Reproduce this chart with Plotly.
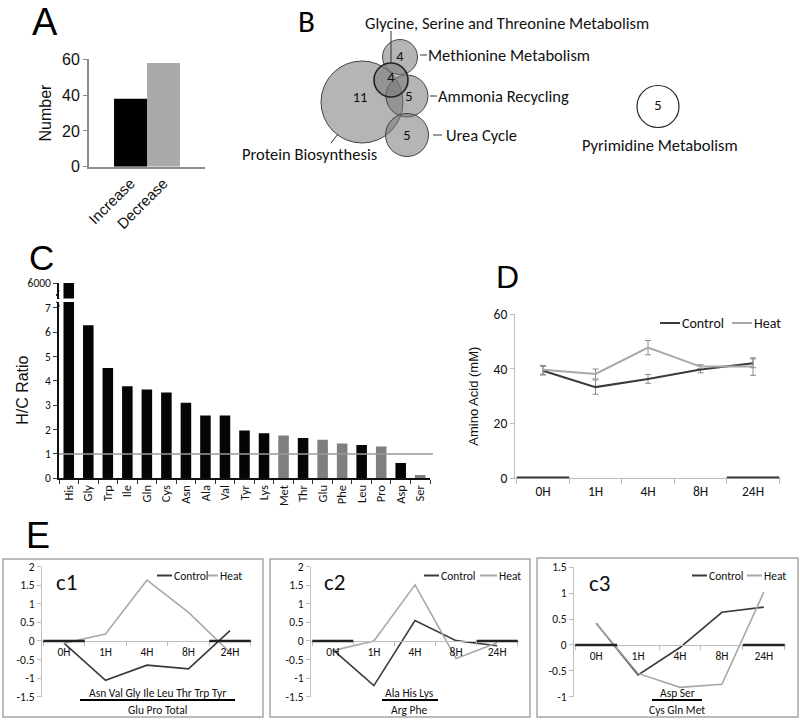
import plotly.graph_objects as go

W, H = 800, 722
def px(x): return x / W
def py(y): return 1 - y / H

ARIAL = "Liberation Sans, Arial, sans-serif"
CAL = "Carlito, Lato, sans-serif"
INK = "#111111"

# ---------------- data ----------------
# Panel A
a_labels = ["Increase", "Decrease"]
a_counts = [38, 58]
a_colors = ["#000000", "#a9a9a9"]

# Panel B
b_pathways = ["Protein Biosynthesis", "Methionine Metabolism",
              "Glycine, Serine and Threonine Metabolism", "Ammonia Recycling",
              "Urea Cycle", "Pyrimidine Metabolism"]
b_counts = [11, 4, 4, 5, 5, 5]

# Panel C
c_amino = ["His", "Gly", "Trp", "Ile", "Gln", "Cys", "Asn", "Ala", "Val", "Tyr",
           "Lys", "Met", "Thr", "Glu", "Phe", "Leu", "Pro", "Asp", "Ser"]
c_ratio = [6000, 6.29, 4.53, 3.78, 3.65, 3.52, 3.10, 2.58, 2.58, 1.96,
           1.85, 1.76, 1.65, 1.58, 1.43, 1.37, 1.31, 0.63, 0.14]
c_gray = ["Met", "Glu", "Phe", "Pro", "Ser"]
c_break_value = 6000
c_ref = 1

# Panel D
times = ["0H", "1H", "4H", "8H", "24H"]
d_control = [39.3, 33.3, 36.3, 39.7, 42.0]
d_control_err = [1.6, 2.6, 1.6, 1.2, 1.6]
d_heat = [39.6, 38.1, 47.7, 40.8, 40.8]
d_heat_err = [1.6, 1.8, 2.6, 0.7, 3.2]

# Panel E
e_names = ["c1", "c2", "c3"]
e_control = [[-0.06, -1.06, -0.65, -0.75, 0.28],
             [-0.23, -1.20, 0.55, 0.01, -0.13],
             [0.42, -0.58, -0.05, 0.63, 0.73]]
e_heat = [[-0.06, 0.19, 1.64, 0.77, -0.31],
          [-0.26, 0.00, 1.51, -0.47, -0.05],
          [0.42, -0.55, -0.82, -0.76, 1.02]]
e_top = ["Asn Val Gly Ile Leu Thr Trp Tyr", "Ala His Lys", "Asp Ser"]
e_bottom = ["Glu Pro Total", "Arg Phe", "Cys Gln Met"]
e_ranges = [[-1.5, 2], [-1.5, 2], [-1, 1.5]]

CTRL = "#3a3a3a"
HEAT = "#a8a8a8"

fig = go.Figure()
shapes = []
ann = []

# ---------------- Panel A ----------------
fig.add_trace(go.Bar(x=[0, 1], y=a_counts, width=1, marker=dict(color=a_colors, line=dict(width=0)),
                     xaxis="x", yaxis="y", showlegend=False))

# ---------------- Panel B ----------------
# geometry (pixel frame of the panel): cx, cy, r
b_geom = [(362, 102, 41), (400, 57, 17.5), (391, 80, 17), (407, 96, 21), (407, 135, 21.5), (658, 106.5, 21)]
b_text_pos = [(360, 98), (400, 57), (391, 78), (409, 97), (407, 136), (658, 106)]
draw_order = [0, 1, 3, 4, 2]
for i in draw_order:
    cx, cy, r = b_geom[i]
    shapes.append(dict(type="circle", xref="x2", yref="y2", x0=cx - r, x1=cx + r, y0=cy - r, y1=cy + r,
                       fillcolor="rgba(120,120,120,0.55)", layer="below",
                       line=dict(color="#222" if i == 2 else "#444", width=1.6 if i == 2 else 1)))
cx, cy, r = b_geom[5]
shapes.append(dict(type="circle", xref="x2", yref="y2", x0=cx - r, x1=cx + r, y0=cy - r, y1=cy + r,
                   fillcolor="white", layer="below", line=dict(color="#222", width=1.2)))
fig.add_trace(go.Scatter(x=[p[0] for p in b_text_pos], y=[p[1] for p in b_text_pos], mode="text",
                         text=[str(c) for c in b_counts], textfont=dict(family=CAL, size=14.5, color=INK),
                         xaxis="x2", yaxis="y2", showlegend=False, hoverinfo="skip"))
# pathway labels
def bl(x, y, t, xa="left"):
    ann.append(dict(xref="x2", yref="y2", x=x, y=y, text=t, showarrow=False, xanchor=xa, yanchor="middle",
                    font=dict(family=CAL, size=16.5, color=INK)))
def bline(x0, y0, x1, y1):
    shapes.append(dict(type="line", xref="x2", yref="y2", x0=x0, y0=y0, x1=x1, y1=y1,
                       line=dict(color="#333", width=1)))
bl(363, 23, b_pathways[2]); bline(391, 31, 391, 63)
bl(426, 55, b_pathways[1]); bline(420, 55, 427, 55)
bl(436, 96, b_pathways[3]); bline(430, 96, 437, 96)
bl(444, 135, b_pathways[4]); bline(433, 135, 442, 135)
bl(240, 154, b_pathways[0]); bline(331, 143, 338, 134)
bl(660, 145, b_pathways[5], "center")

# ---------------- Panel C ----------------
c_colors = ["#7f7f7f" if a in c_gray else "#050505" for a in c_amino]
fig.add_trace(go.Bar(x=c_amino, y=c_ratio, width=0.54, marker=dict(color=c_colors, line=dict(width=0)),
                     xaxis="x3", yaxis="y3", showlegend=False))
fig.add_trace(go.Bar(x=c_amino[:1], y=c_ratio[:1], width=0.54, marker=dict(color=c_colors[:1], line=dict(width=0)),
                     xaxis="x4", yaxis="y4", showlegend=False))
shapes.append(dict(type="line", xref="x3 domain", yref="y3", x0=0, x1=1.008, y0=c_ref, y1=c_ref,
                   line=dict(color="#9a9a9a", width=1.5)))
# axis break marks
shapes.append(dict(type="path", xref="paper", yref="paper",
                   path=f"M{px(59)},{py(290)} Q{px(59)},{py(294)} {px(56)},{py(295)} Q{px(59)},{py(296)} {px(59)},{py(299)}",
                   line=dict(color="#111", width=1)))
shapes.append(dict(type="path", xref="paper", yref="paper",
                   path=f"M{px(56)},{py(302)} Q{px(59)},{py(302)} {px(59)},{py(307)}",
                   line=dict(color="#111", width=1)))

# ---------------- Panel D ----------------
fig.add_trace(go.Scatter(x=times, y=d_control, mode="lines", line=dict(color=CTRL, width=2),
                         error_y=dict(type="data", array=d_control_err, color="#8a8a8a", thickness=1, width=3),
                         xaxis="x5", yaxis="y5", showlegend=False, name="Control"))
fig.add_trace(go.Scatter(x=times, y=d_heat, mode="lines", line=dict(color=HEAT, width=2),
                         error_y=dict(type="data", array=d_heat_err, color="#8a8a8a", thickness=1, width=3),
                         xaxis="x5", yaxis="y5", showlegend=False, name="Heat"))
for x0, x1 in [(-0.5, 0.5), (3.5, 4.5)]:
    shapes.append(dict(type="line", xref="x5", yref="y5", x0=x0, x1=x1, y0=0, y1=0,
                       line=dict(color="#333", width=3.5)))

def legend(xc0, xc1, xh0, xh1, y, size):
    for (a, b, col, t) in [(xc0, xc1, CTRL, "Control"), (xh0, xh1, HEAT, "Heat")]:
        shapes.append(dict(type="line", xref="paper", yref="paper", x0=px(a), x1=px(b), y0=py(y), y1=py(y),
                           line=dict(color=col, width=2)))
        ann.append(dict(xref="paper", yref="paper", x=px(b), y=py(y), text=t, showarrow=False,
                        xanchor="left", yanchor="middle", font=dict(family=CAL, size=size, color=INK)))
legend(660, 680, 732, 752, 323, 14)

# ---------------- Panel E ----------------
e_xdom = [(42, 252), (311, 519), (574, 786)]
e_ydom = [(696.7, 566.7), (696.7, 566.7), (696.7, 567.3)]
e_box = [(3, 559, 263, 717), (270, 559, 530, 717), (537, 558, 798, 717)]
e_leg = [(157, 172, 208, 218), (424, 439, 480, 497), (692, 707, 747, 762)]
e_lab = [(66, 582), (334.5, 582), (599.5, 583)]
e_grp = [(157, 80, 235), (409, 382, 438), (677, 652, 702)]
for k in range(3):
    xa, ya = f"x{6+k}", f"y{6+k}"
    fig.add_trace(go.Scatter(x=times, y=e_control[k], mode="lines", line=dict(color=CTRL, width=1.6),
                             xaxis=xa, yaxis=ya, showlegend=False, name="Control"))
    fig.add_trace(go.Scatter(x=times, y=e_heat[k], mode="lines", line=dict(color=HEAT, width=1.6),
                             xaxis=xa, yaxis=ya, showlegend=False, name="Heat"))
    for x0, x1 in [(-0.5, 0.5), (3.5, 4.5)]:
        shapes.append(dict(type="line", xref=xa, yref=ya, x0=x0, x1=x1, y0=0, y1=0,
                           line=dict(color="#222", width=2.5)))
    bx0, by0, bx1, by1 = e_box[k]
    shapes.append(dict(type="rect", xref="paper", yref="paper", x0=px(bx0), x1=px(bx1), y0=py(by1), y1=py(by0),
                       line=dict(color="#a6a6a6", width=1.5)))
    legend(*e_leg[k], 575.5, 11.5)
    lx, lyy = e_lab[k]
    ann.append(dict(xref="paper", yref="paper", x=px(lx), y=py(lyy), text=e_names[k], showarrow=False,
                    xanchor="center", yanchor="middle", font=dict(family=CAL, size=23, color=INK)))
    gx, ux0, ux1 = e_grp[k]
    ann.append(dict(xref="paper", yref="paper", x=px(gx), y=py(692.5), text=e_top[k], showarrow=False,
                    xanchor="center", yanchor="middle", font=dict(family=CAL, size=11.5, color=INK)))
    ann.append(dict(xref="paper", yref="paper", x=px(gx), y=py(709.5), text=e_bottom[k], showarrow=False,
                    xanchor="center", yanchor="middle", font=dict(family=CAL, size=11.5, color=INK)))
    shapes.append(dict(type="line", xref="paper", yref="paper", x0=px(ux0), x1=px(ux1), y0=py(700), y1=py(700),
                       line=dict(color="#000", width=2)))

# ---------------- panel letters ----------------
ann.append(dict(xref="paper", yref="paper", x=px(44.5), y=1, text="A", showarrow=False, borderpad=0,
                xanchor="center", yanchor="top", font=dict(family=ARIAL, size=38, color="#000")))
for t, x, y, s, fam in [("B", 306, 21, 31, CAL), ("C", 41.5, 257.5, 35, ARIAL),
                        ("D", 507.5, 276.5, 32, ARIAL), ("E", 37.5, 535, 36, ARIAL)]:
    ann.append(dict(xref="paper", yref="paper", x=px(x), y=py(y), text=t, showarrow=False,
                    xanchor="center", yanchor="middle", font=dict(family=fam, size=s, color="#000")))

# ---------------- axes ----------------
def yfrac(dom, rng, v):
    return dom[0] + (v - rng[0]) / (rng[1] - rng[0]) * (dom[1] - dom[0])

lay = dict(
    width=W, height=H, margin=dict(l=0, r=0, t=0, b=0, autoexpand=False), paper_bgcolor="white",
    plot_bgcolor="rgba(0,0,0,0)",
    showlegend=False, shapes=shapes, annotations=ann, font=dict(family=CAL, color=INK),
    xaxis=dict(domain=[px(89), px(205)], range=[-1.26, 2.26], tickvals=[0, 1], ticktext=a_labels,
               tickangle=-45, tickfont=dict(family=ARIAL, size=15, color=INK), showline=True,
               linecolor="#8c8c8c", linewidth=2, ticks="", showgrid=False, zeroline=False, anchor="y"),
    yaxis=dict(domain=[py(166.7), py(59.3)], range=[0, 60], tickvals=[0, 20, 40, 60], ticks="outside",
               ticklen=4, tickcolor="#8c8c8c", showline=True, linecolor="#8c8c8c", linewidth=2,
               tickfont=dict(family=ARIAL, size=16, color=INK), showgrid=False, zeroline=False,
               title=dict(text="Number", font=dict(family=ARIAL, size=16, color=INK), standoff=6), anchor="x"),
    xaxis2=dict(domain=[px(230), 1], range=[230, 800], visible=False, anchor="y2"),
    yaxis2=dict(domain=[py(170), 1], range=[170, 0], visible=False, anchor="x2"),
    xaxis3=dict(domain=[px(59), px(430)], type="category", categoryorder="array", categoryarray=c_amino,
                tickson="boundaries", ticks="outside", ticklen=4, tickcolor="#333", showline=True,
                linecolor="#111", linewidth=1.5, tickangle=-90, tickfont=dict(family=CAL, size=12.5, color=INK),
                showgrid=False, zeroline=False, anchor="y3"),
    yaxis3=dict(domain=[py(478.3), py(302)], range=[0, (478.3 - 302) / 24.35], tickvals=list(range(8)),
                ticks="outside", ticklen=4, tickcolor="#333", showline=True, linecolor="#111", linewidth=1.5,
                tickfont=dict(family=CAL, size=11.5, color=INK), showgrid=False, zeroline=False,
                title=dict(text="H/C Ratio", font=dict(family=ARIAL, size=16, color=INK), standoff=12), anchor="x3"),
    xaxis4=dict(domain=[px(59), px(430)], type="category", categoryorder="array", categoryarray=c_amino,
                visible=False, anchor="y4", matches="x3"),
    yaxis4=dict(domain=[py(298.5), py(283)], range=[5000, c_break_value], tickvals=[c_break_value],
                ticks="outside", ticklen=4, tickcolor="#333", showline=True, linecolor="#111", linewidth=1.5,
                tickfont=dict(family=CAL, size=11.5, color=INK), showgrid=False, zeroline=False, anchor="x4"),
    xaxis5=dict(domain=[px(515), px(781)], type="category", tickson="boundaries", ticks="outside", ticklen=5,
                tickcolor="#bdbdbd", showline=True, linecolor="#bdbdbd", linewidth=1,
                tickfont=dict(family=CAL, size=13.5, color=INK), showgrid=False, zeroline=False, anchor="y5"),
    yaxis5=dict(domain=[py(478.3), py(314)], range=[0, 60], tickvals=[0, 20, 40, 60], ticks="outside",
                ticklen=4, tickcolor="#bdbdbd", showline=True, linecolor="#bdbdbd", linewidth=1,
                tickfont=dict(family=CAL, size=13.5, color=INK), showgrid=False, zeroline=False,
                title=dict(text="Amino Acid (mM)", font=dict(family=ARIAL, size=13, color=INK), standoff=12),
                anchor="x5"),
)
for k in range(3):
    xd = [px(e_xdom[k][0]), px(e_xdom[k][1])]
    yd = [py(e_ydom[k][0]), py(e_ydom[k][1])]
    rng = e_ranges[k]
    tv = [rng[0] + 0.5 * i for i in range(int(round((rng[1] - rng[0]) / 0.5)) + 1)]
    lay[f"xaxis{6+k}"] = dict(domain=xd, type="category", tickson="boundaries", ticks="outside", ticklen=4,
                              tickcolor="#bdbdbd", showline=True, linecolor="#bdbdbd", linewidth=1,
                              tickfont=dict(family=CAL, size=11.5, color=INK), showgrid=False, zeroline=False,
                              anchor="free", position=yfrac(yd, rng, 0))
    lay[f"yaxis{6+k}"] = dict(domain=yd, range=rng, tickvals=tv, ticktext=[f"{v:g}" for v in tv],
                              ticks="outside", ticklen=4, tickcolor="#bdbdbd", showline=True, linecolor="#bdbdbd",
                              linewidth=1, tickfont=dict(family=CAL, size=11.5, color=INK), showgrid=False,
                              zeroline=False, anchor=f"x{6+k}")

for key, val in lay.items():
    if key.startswith("xaxis") or key.startswith("yaxis"):
        val["automargin"] = False
        val["fixedrange"] = True

fig.update_layout(**lay)
fig.write_html("out.html", config={"displayModeBar": False},
               post_script="document.body.style.margin='0';document.body.style.overflow='hidden';")
